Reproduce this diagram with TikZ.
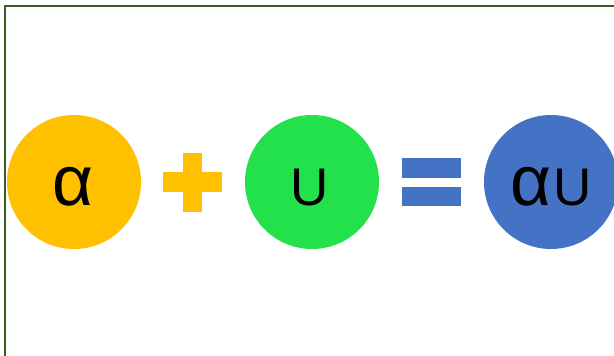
\documentclass[tikz,border=0pt]{standalone}
\usepackage{fontspec}
\setmainfont{Liberation Sans}
\definecolor{framegreen}{HTML}{3B5A25}
\definecolor{cyellow}{HTML}{FFC000}
\definecolor{cgreen}{HTML}{23E14B}
\definecolor{cblue}{HTML}{4472C4}
\newcommand{\alfont}{\fontsize{71}{71}\selectfont}
\newcommand{\ufont}{\fontsize{53}{53}\selectfont}
\begin{document}
\begin{tikzpicture}[x=1pt,y=-1pt,
  ball/.style={circle, minimum size=134pt, inner sep=0pt, draw=none},
  sym/.style={anchor=base, inner sep=0pt, text=black}]
\useasboundingbox (0,0) rectangle (614,356);
\clip (0,0) rectangle (614,356);
\fill[white] (0,0) rectangle (614,356);
\draw[framegreen, line width=2.4pt] (5,360) -- (5,6) -- (620,6);
\node[ball, fill=cyellow] (a) at (74,182) {};
\node[ball, fill=cgreen] (u) at (312,182) {};
\node[ball, fill=cblue] (au) at (551,182) {};
\node[sym] (ta) at (73.5,205) {\alfont α};
\node[sym] (tu) at (310,205) {\ufont U};
\node[sym, anchor=base west] (tau1) at (510,205) {\alfont α};
\node[sym, anchor=base west] (tau2) at (553,205) {\ufont U};
\fill[cyellow] (183,153) rectangle (202,212);
\fill[cyellow] (163,172) rectangle (222,192);
\fill[cblue] (402,158) rectangle (461,178);
\fill[cblue] (402,187) rectangle (461,206);
\end{tikzpicture}
\end{document}
